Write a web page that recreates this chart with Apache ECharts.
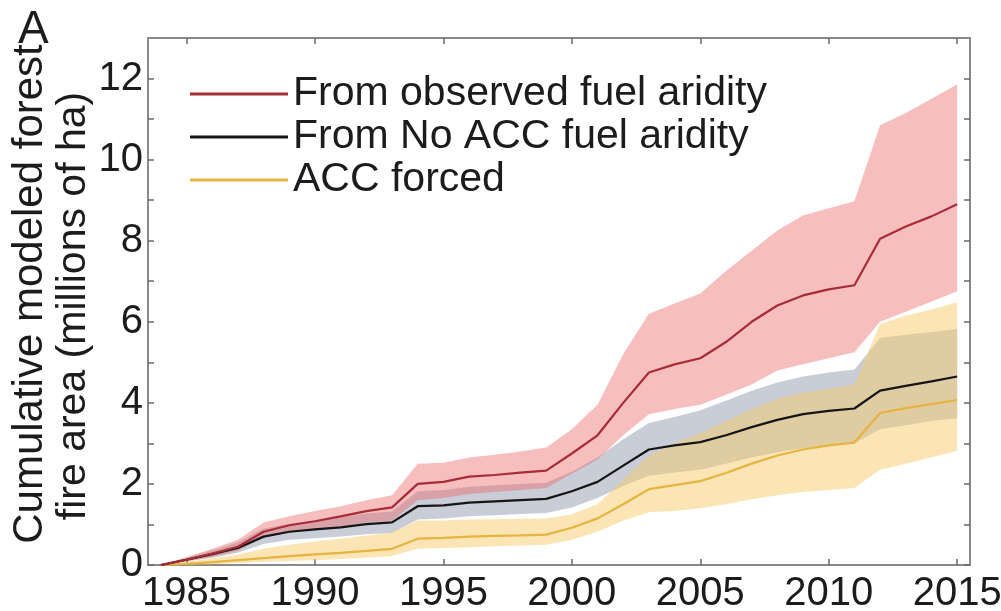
<!DOCTYPE html>
<html><head><meta charset="utf-8">
<script src="https://cdn.jsdelivr.net/npm/echarts@6/dist/echarts.min.js"></script>
<style>html,body{margin:0;padding:0;background:#fff}#c{width:1001px;height:611px}</style>
</head><body><div id="c"></div>
<script>
const years = [1984,1985,1986,1987,1988,1989,1990,1991,1992,1993,1994,1995,1996,1997,1998,1999,2000,2001,2002,2003,2004,2005,2006,2007,2008,2009,2010,2011,2012,2013,2014,2015];

const obsMean = [0,0.13,0.28,0.45,0.82,0.98,1.08,1.2,1.33,1.42,2.0,2.05,2.18,2.22,2.28,2.33,2.75,3.2,4.0,4.75,4.95,5.1,5.5,6.0,6.4,6.65,6.8,6.9,8.05,8.35,8.6,8.9];
const obsLow  = [0,0.09,0.2,0.35,0.68,0.8,0.88,0.95,1.05,1.1,1.6,1.65,1.75,1.8,1.85,1.9,2.25,2.6,3.2,3.72,3.85,3.95,4.2,4.45,4.8,4.95,5.1,5.25,6.0,6.25,6.5,6.75];
const obsHigh = [0,0.2,0.4,0.62,1.05,1.2,1.33,1.45,1.6,1.72,2.5,2.52,2.65,2.72,2.8,2.9,3.35,3.95,5.2,6.2,6.45,6.7,7.25,7.75,8.25,8.62,8.8,8.97,10.85,11.15,11.5,11.85];

const noAccMean = [0,0.13,0.27,0.42,0.7,0.82,0.88,0.93,1.01,1.05,1.45,1.47,1.54,1.57,1.6,1.63,1.82,2.05,2.45,2.85,2.95,3.03,3.2,3.4,3.58,3.72,3.8,3.86,4.3,4.42,4.53,4.65];
const noAccLow  = [0,0.09,0.18,0.3,0.52,0.62,0.66,0.7,0.76,0.79,1.12,1.15,1.2,1.23,1.26,1.28,1.42,1.65,1.95,2.2,2.28,2.35,2.5,2.65,2.78,2.88,2.95,3.0,3.35,3.45,3.55,3.62];
const noAccHigh = [0,0.18,0.36,0.56,0.9,1.02,1.1,1.17,1.27,1.32,1.82,1.85,1.93,1.97,2.0,2.03,2.3,2.65,3.1,3.5,3.65,3.82,4.05,4.3,4.5,4.65,4.75,4.82,5.6,5.68,5.75,5.82];

const accMean = [0,0.03,0.07,0.12,0.17,0.22,0.26,0.3,0.35,0.4,0.65,0.67,0.7,0.72,0.73,0.75,0.92,1.15,1.5,1.87,1.97,2.07,2.27,2.5,2.7,2.85,2.95,3.02,3.75,3.87,3.97,4.07];
const accLow  = [0,0,0.02,0.05,0.08,0.1,0.12,0.15,0.18,0.22,0.4,0.42,0.44,0.46,0.48,0.5,0.62,0.82,1.1,1.3,1.33,1.4,1.5,1.62,1.72,1.8,1.85,1.9,2.35,2.5,2.65,2.82];
const accHigh = [0,0.08,0.16,0.26,0.4,0.5,0.58,0.65,0.72,0.8,1.1,1.1,1.12,1.13,1.14,1.15,1.25,1.5,2.1,2.7,3.0,3.25,3.55,3.85,4.1,4.25,4.35,4.45,5.95,6.15,6.3,6.48];

const xTickValues = [1985,1990,1995,2000,2005,2010,2015];
const xLabelValues = [1985,1990,1995,2000,2005,2010,2015];
const yTickValues = [0,1,2,3,4,5,6,7,8,9,10,11,12];
const yLabelValues = [0,2,4,6,8,10,12];

const seriesNames = ['From observed fuel aridity','From No ACC fuel aridity','ACC forced'];

const FONT = 'Liberation Sans, Arial, Helvetica, sans-serif';
const chart = echarts.init(document.getElementById('c'), null, {renderer:'canvas'});

function pairs(arr){ return years.map((y,i)=>[y, arr[i]]); }
function band(key, lo, hi, color, z){
  return {
    name:key+'_band', type:'custom', silent:true, z:z, xAxisIndex:0, yAxisIndex:0,
    data: years.map((y,i)=>[y, lo[i], hi[i]]),
    encode:{x:0, y:[1,2]},
    renderItem:function(params, api){
      if (params.dataIndex !== 0) return null;
      const pts = [];
      for (let i=0;i<years.length;i++) pts.push(api.coord([years[i], hi[i]]));
      for (let i=years.length-1;i>=0;i--) pts.push(api.coord([years[i], lo[i]]));
      return {type:'polygon', shape:{points:pts}, style:{fill:color, stroke:null}};
    }
  };
}

const axisColor = '#8a8a8a';
const textColor = '#1c1c1c';

const option = {
  animation:false,
  backgroundColor:'#ffffff',
  grid:{left:148, right:31, top:38, bottom:46, containLabel:false, outerBoundsMode:'none'},
  xAxis:[
    {type:'value', min:1983.5, max:2015.5, position:'bottom',
     axisLine:{show:true, onZero:false, lineStyle:{color:axisColor, width:2}},
     axisTick:{show:true, inside:true, length:6, customValues:xTickValues, lineStyle:{color:'#6a6a6a', width:1.5}},
     axisLabel:{customValues:xLabelValues, fontSize:40, color:textColor, fontFamily:FONT, margin:9, formatter:v=>String(v)},
     splitLine:{show:false}},
    {type:'value', min:1983.5, max:2015.5, position:'top',
     axisLine:{show:true, onZero:false, lineStyle:{color:axisColor, width:2}},
     axisTick:{show:true, inside:true, length:6, customValues:xTickValues, lineStyle:{color:'#6a6a6a', width:1.5}},
     axisLabel:{show:false}, splitLine:{show:false}}
  ],
  yAxis:[
    {type:'value', min:0, max:13, position:'left',
     axisLine:{show:true, onZero:false, lineStyle:{color:axisColor, width:2}},
     axisTick:{show:true, inside:true, length:6, customValues:yTickValues, lineStyle:{color:'#6a6a6a', width:1.5}},
     axisLabel:{customValues:yLabelValues, fontSize:40, color:textColor, fontFamily:FONT, margin:5, formatter:v=>String(v)},
     splitLine:{show:false}},
    {type:'value', min:0, max:13, position:'right',
     axisLine:{show:true, onZero:false, lineStyle:{color:axisColor, width:2}},
     axisTick:{show:true, inside:true, length:6, customValues:yTickValues, lineStyle:{color:'#6a6a6a', width:1.5}},
     axisLabel:{show:false}, splitLine:{show:false}}
  ],
  legend:{
    data:seriesNames, orient:'vertical', left:185, top:68,
    itemWidth:98, itemHeight:3, itemGap:1, icon:'rect', selectedMode:false,
    textStyle:{fontSize:41, color:textColor, fontFamily:FONT, lineHeight:42}
  },
  graphic:[
    {type:'text', left:18, top:7, style:{text:'A', fontSize:46, fontFamily:FONT, fill:textColor}},
    {type:'text', x:30, y:294, rotation:Math.PI/2,
     style:{text:'Cumulative modeled forest', fontSize:42, fontFamily:FONT, fill:textColor, textAlign:'center', textVerticalAlign:'middle', align:'center', verticalAlign:'middle'}},
    {type:'text', x:74, y:306, rotation:Math.PI/2,
     style:{text:'fire area (millions of ha)', fontSize:41, fontFamily:FONT, fill:textColor, textAlign:'center', textVerticalAlign:'middle', align:'center', verticalAlign:'middle'}}
  ],
  series:[
    band('noacc', noAccLow, noAccHigh, 'rgba(100,112,140,0.35)', 1),
    band('acc', accLow, accHigh, 'rgba(247,203,107,0.5)', 2),
    band('obs', obsLow, obsHigh, 'rgba(236,100,100,0.42)', 3),
    {name:seriesNames[2], type:'line', data:pairs(accMean), symbol:'none', color:'#e6b440', itemStyle:{color:'#e6b440'}, lineStyle:{color:'#e6b440', width:2.2}, z:5},
    {name:seriesNames[1], type:'line', data:pairs(noAccMean), symbol:'none', color:'#151515', itemStyle:{color:'#151515'}, lineStyle:{color:'#151515', width:2.2}, z:6},
    {name:seriesNames[0], type:'line', data:pairs(obsMean), symbol:'none', color:'#a82c38', itemStyle:{color:'#a82c38'}, lineStyle:{color:'#a82c38', width:2.2}, z:7}
  ]
};
chart.setOption(option);
</script>
</body></html>
